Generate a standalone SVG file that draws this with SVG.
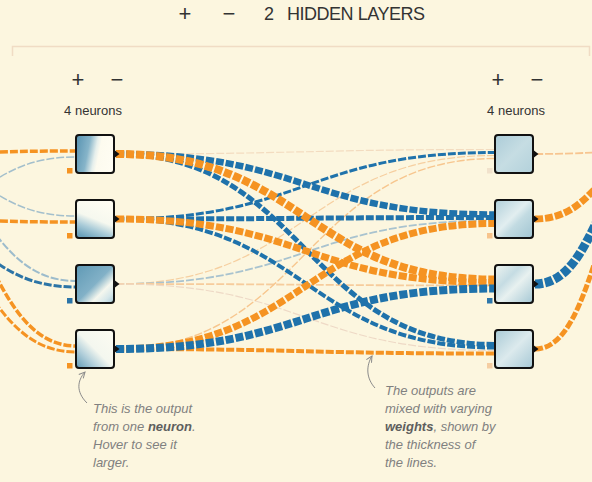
<svg xmlns="http://www.w3.org/2000/svg" width="592" height="482" viewBox="0 0 592 482">
<defs>
<style>
text{font-family:"Liberation Sans",Arial,sans-serif}
.hdr{font-size:18px;fill:#333}
.pm{font-size:22px;fill:#333;text-anchor:middle}
.nl{font-size:13px;fill:#333;text-anchor:middle}
.note{font-size:13px;font-style:italic;fill:#808080}
.em{font-weight:bold;fill:#5e5e5e}
.lk{fill:none;stroke-dasharray:8 2}
.o{stroke:#f59322}
.b{stroke:#1f72ab}
.box{stroke:#111;stroke-width:2}
.tri{fill:#111}
.ann{fill:none;stroke:#8a8a8a;stroke-width:1}
</style>
<marker id="ah" viewBox="0 0 8 8" refX="7" refY="4" markerWidth="8" markerHeight="8" orient="auto" markerUnits="userSpaceOnUse">
<path d="M1,1 L7,4 L1,7" fill="none" stroke="#8a8a8a" stroke-width="1"/>
</marker>
<linearGradient id="gL1" x1="0" y1="0.4" x2="1" y2="0.6">
<stop offset="0" stop-color="#5f98b5"/><stop offset="0.3" stop-color="#86b4c9"/><stop offset="0.5" stop-color="#e6efec"/><stop offset="0.6" stop-color="#fdfbef"/><stop offset="1" stop-color="#fffdf3"/>
</linearGradient>
<linearGradient id="gL2" x1="0.7" y1="0" x2="0.3" y2="1">
<stop offset="0" stop-color="#fffdf3"/><stop offset="0.5" stop-color="#f6f8ef"/><stop offset="0.75" stop-color="#a9cbd8"/><stop offset="1" stop-color="#6aa1bb"/>
</linearGradient>
<linearGradient id="gL3" x1="0" y1="0" x2="1" y2="1">
<stop offset="0" stop-color="#5f99b5"/><stop offset="0.5" stop-color="#82b1c7"/><stop offset="0.7" stop-color="#f5f7ee"/><stop offset="0.85" stop-color="#d6e7ea"/><stop offset="1" stop-color="#a6c8d5"/>
</linearGradient>
<linearGradient id="gL4" x1="1" y1="0" x2="0" y2="1">
<stop offset="0" stop-color="#fdfcf2"/><stop offset="0.5" stop-color="#f4f7ef"/><stop offset="0.72" stop-color="#b3d0db"/><stop offset="1" stop-color="#5f99b5"/>
</linearGradient>
<linearGradient id="gR1" x1="0" y1="0" x2="1" y2="1">
<stop offset="0" stop-color="#acccd8"/><stop offset="0.5" stop-color="#c6dde3"/><stop offset="1" stop-color="#b3d1db"/>
</linearGradient>
<linearGradient id="gR2" x1="0" y1="0" x2="1" y2="1">
<stop offset="0" stop-color="#b0cfda"/><stop offset="0.45" stop-color="#e2eef0"/><stop offset="0.6" stop-color="#c2dbe2"/><stop offset="1" stop-color="#a0c4d2"/>
</linearGradient>
<linearGradient id="gR3" x1="0" y1="0" x2="1" y2="1">
<stop offset="0" stop-color="#eef4f0"/><stop offset="0.35" stop-color="#c5dce3"/><stop offset="0.55" stop-color="#e8f1f0"/><stop offset="1" stop-color="#a4c7d4"/>
</linearGradient>
<linearGradient id="gR4" x1="0" y1="0" x2="1" y2="1">
<stop offset="0" stop-color="#a9cad6"/><stop offset="0.5" stop-color="#dceaed"/><stop offset="1" stop-color="#a6c8d5"/>
</linearGradient>
</defs>
<rect width="592" height="482" fill="#fcf6df"/>

<g id="header">
<text class="pm" x="185" y="21">+</text>
<text class="pm" x="229" y="21">−</text>
<text class="hdr" x="264" y="20">2</text>
<text class="hdr" x="287" y="20" textLength="138">HIDDEN LAYERS</text>
<path d="M12.5,56 V46.5 H589.5 V56" fill="none" stroke="#f0dcc4" stroke-width="1.5"/>
</g>

<g id="layer1-controls">
<text class="pm" x="78" y="87">+</text>
<text class="pm" x="117" y="87">−</text>
<text class="nl" x="93" y="115">4 neurons</text>
</g>
<g id="layer2-controls">
<text class="pm" x="498" y="87">+</text>
<text class="pm" x="537" y="87">−</text>
<text class="nl" x="516" y="115">4 neurons</text>
</g>

<g id="connectors">
<!-- inputs into layer 1 -->
<path class="lk" stroke="#a3bfcc" stroke-width="1.5" d="M-110,219 C-17,219 -17,157 76,157"/>
<path class="lk" stroke="#a3bfcc" stroke-width="1.5" d="M-110,154 C-17,154 -17,216 76,216"/>
<path class="lk" stroke="#9dbccc" stroke-width="2" d="M-110,154 C-17,154 -17,281 76,281"/>
<path class="lk" stroke="#2c74a6" stroke-width="3" d="M-110,219 C-17,219 -17,287 76,287"/>
<path class="lk o" stroke-width="3.5" d="M-110,154 C-17,154 -17,151 76,151"/>
<path class="lk o" stroke-width="3.5" d="M-110,219 C-17,219 -17,222 76,222"/>
<path class="lk o" stroke-width="3.5" d="M-110,154 C-17,154 -17,346 76,346"/>
<path class="lk o" stroke-width="3" d="M-110,219 C-17,219 -17,352 76,352"/>

<!-- faint hidden links -->
<path class="lk" stroke="#f3dcc0" stroke-width="1.2" d="M116,154 C305.5,154 305.5,149.5 495,149.5"/>
<path class="lk" stroke="#f6cfa0" stroke-width="1.2" d="M116,284 C305.5,284 305.5,155.5 495,155.5"/>
<path class="lk" stroke="#a9c3cf" stroke-width="1.8" d="M116,284 C305.5,284 305.5,220.5 495,220.5"/>
<path class="lk" stroke="#f6cc9c" stroke-width="1.8" d="M116,284 C305.5,284 305.5,285.5 495,285.5"/>
<path class="lk" stroke="#eed9c6" stroke-width="1.2" d="M116,284 C305.5,284 305.5,350.5 495,350.5"/>
<path class="lk" stroke="#f7c68e" stroke-width="1.4" d="M116,349 C305.5,349 305.5,158.5 495,158.5"/>

<!-- strong hidden links -->
<path class="lk b" stroke-width="3" d="M116,219 C305.5,219 305.5,152.5 495,152.5"/>
<path class="lk b" stroke-width="5" d="M116,219 C305.5,219 305.5,217.5 495,217.5"/>
<path class="lk b" stroke-width="4" d="M116,219 C305.5,219 305.5,347.5 495,347.5"/>
<path class="lk b" stroke-width="5" d="M116,154 C305.5,154 305.5,344.5 495,344.5"/>
<path class="lk b" stroke-width="6.5" d="M116,154 C305.5,154 305.5,214.5 495,214.5"/>
<path class="lk o" stroke-width="7" d="M116,219 C305.5,219 305.5,282.5 495,282.5"/>
<path class="lk o" stroke-width="8" d="M116,154 C305.5,154 305.5,279.5 495,279.5"/>
<path class="lk o" stroke-width="4" d="M116,349 C305.5,349 305.5,353.5 495,353.5"/>
<path class="lk o" stroke-width="7" d="M116,349 C305.5,349 305.5,223.5 495,223.5"/>
<path class="lk b" stroke-width="8" d="M116,349 C305.5,349 305.5,288.5 495,288.5"/>

<!-- outputs of layer 2 -->
<path class="lk" stroke="#f7c590" stroke-width="1.8" d="M535,154 C597.5,154 597.5,150.5 660,150.5"/>
<path class="lk o" stroke-width="7" d="M535,219 C597.5,219 597.5,153.5 660,153.5"/>
<path class="lk b" stroke-width="9" d="M535,284 C597.5,284 597.5,156.5 660,156.5"/>
<path class="lk o" stroke-width="5" d="M535,349 C597.5,349 597.5,159.5 660,159.5"/>

<!-- annotation arrows -->
<path class="ann" marker-end="url(#ah)" d="M87,403 C76,392 77,381 85,372"/>
<path class="ann" marker-end="url(#ah)" d="M375,388 C366,378 366,366 372,356"/>
</g>

<g id="L1"><rect class="box" x="76" y="135" width="38" height="38" rx="3" fill="url(#gL1)"/><polygon class="tri" points="113,149 119.5,154 113,159"/><rect x="67" y="168" width="5.5" height="5.5" fill="#f59322"/></g>
<g id="L2"><rect class="box" x="76" y="200" width="38" height="38" rx="3" fill="url(#gL2)"/><polygon class="tri" points="113,214 119.5,219 113,224"/><rect x="67" y="233" width="5.5" height="5.5" fill="#f59322"/></g>
<g id="L3"><rect class="box" x="76" y="265" width="38" height="38" rx="3" fill="url(#gL3)"/><polygon class="tri" points="113,279 119.5,284 113,289"/><rect x="67" y="298" width="5.5" height="5.5" fill="#2a74a8"/></g>
<g id="L4"><rect class="box" x="76" y="330" width="38" height="38" rx="3" fill="url(#gL4)"/><polygon class="tri" points="113,344 119.5,349 113,354"/><rect x="67" y="363" width="5.5" height="5.5" fill="#f59322"/></g>

<g id="R1"><rect class="box" x="495" y="135" width="38" height="38" rx="3" fill="url(#gR1)"/><polygon class="tri" points="532,149 538.5,154 532,159"/><rect x="487" y="168" width="5.5" height="5.5" fill="#f1e2cc"/></g>
<g id="R2"><rect class="box" x="495" y="200" width="38" height="38" rx="3" fill="url(#gR2)"/><polygon class="tri" points="532,214 538.5,219 532,224"/><rect x="487" y="233" width="5.5" height="5.5" fill="#f7c38c"/></g>
<g id="R3"><rect class="box" x="495" y="265" width="38" height="38" rx="3" fill="url(#gR3)"/><polygon class="tri" points="532,279 538.5,284 532,289"/><rect x="487" y="298" width="5.5" height="5.5" fill="#2e77ab"/></g>
<g id="R4"><rect class="box" x="495" y="330" width="38" height="38" rx="3" fill="url(#gR4)"/><polygon class="tri" points="532,344 538.5,349 532,354"/><rect x="487" y="363" width="5.5" height="5.5" fill="#f5cda2"/></g>

<g id="note-neuron">
<text class="note" x="93" y="412.5">This is the output</text>
<text class="note" x="93" y="430.5">from one <tspan class="em">neuron</tspan>.</text>
<text class="note" x="93" y="448.5">Hover to see it</text>
<text class="note" x="93" y="466.5">larger.</text>
</g>
<g id="note-weights">
<text class="note" x="385" y="395">The outputs are</text>
<text class="note" x="385" y="413">mixed with varying</text>
<text class="note" x="385" y="431"><tspan class="em">weights</tspan>, shown by</text>
<text class="note" x="385" y="449">the thickness of</text>
<text class="note" x="385" y="467">the lines.</text>
</g>
</svg>
